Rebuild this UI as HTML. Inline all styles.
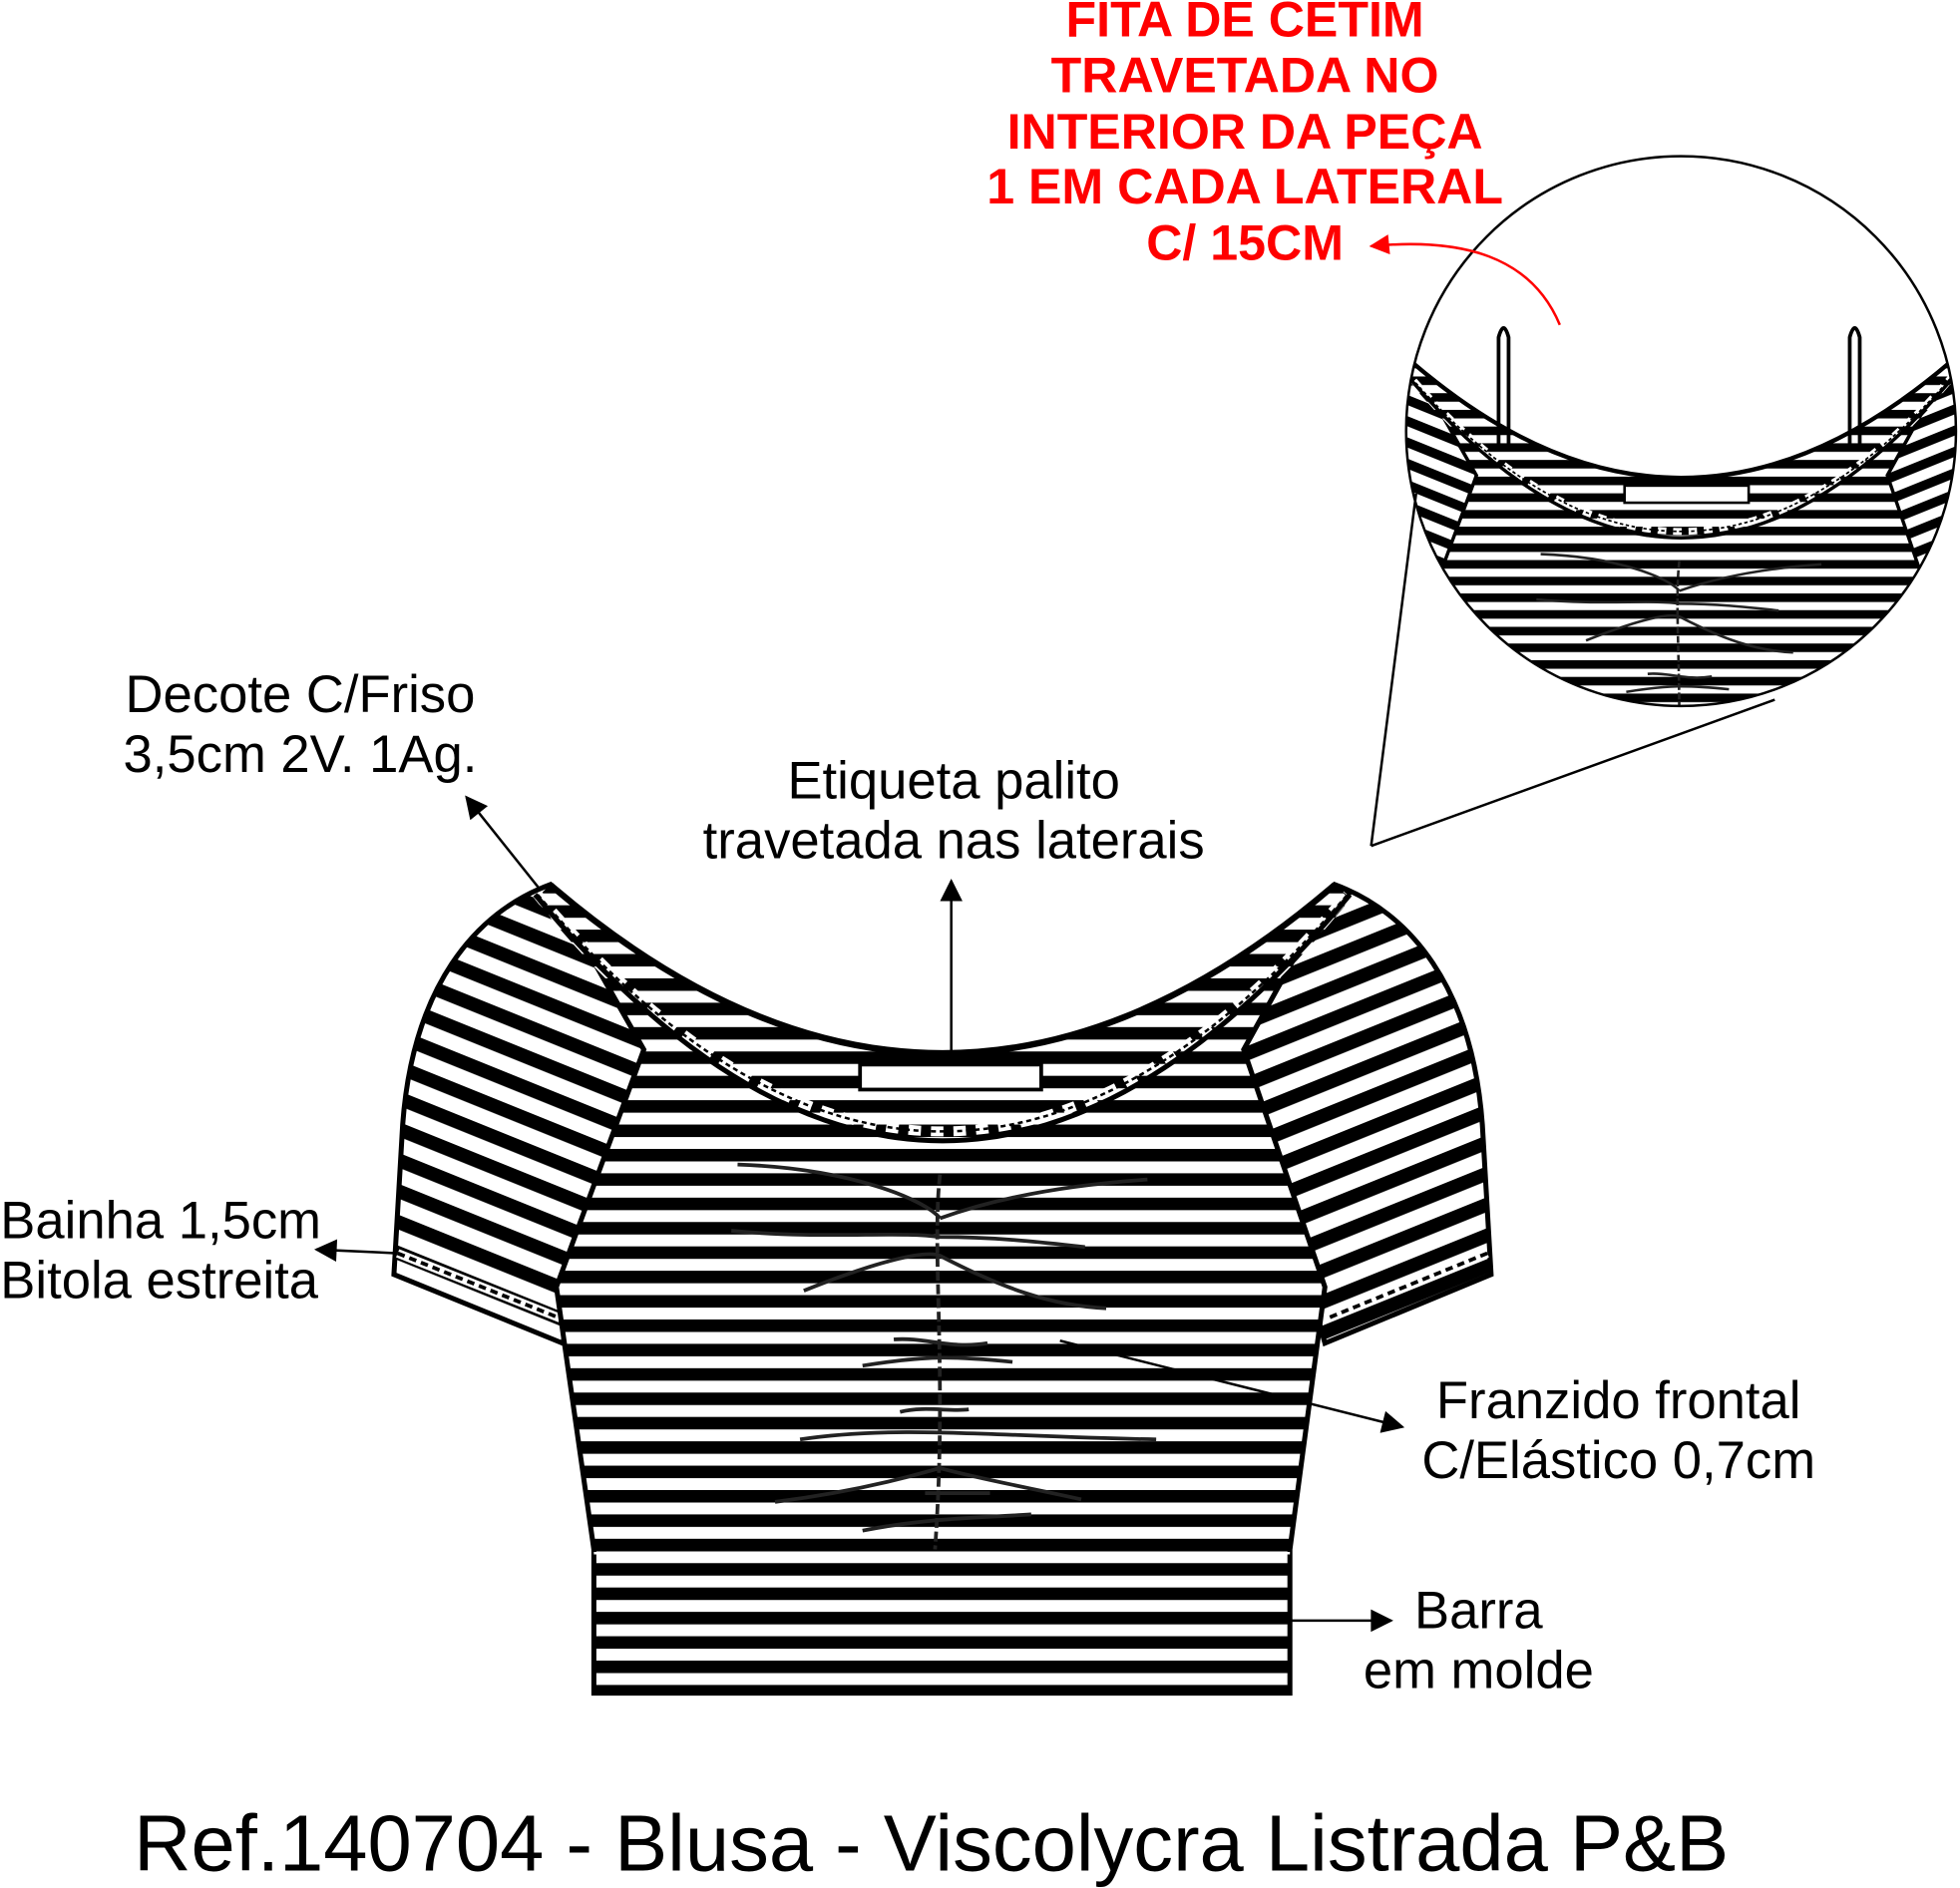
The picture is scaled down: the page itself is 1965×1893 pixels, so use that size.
<!DOCTYPE html>
<html><head><meta charset="utf-8"><style>
html,body{margin:0;padding:0;background:#fff;}
svg{display:block;}
text{font-family:"Liberation Sans",Arial,sans-serif;}
</style></head><body>
<svg width="1965" height="1893" viewBox="0 0 1568 1511" xmlns="http://www.w3.org/2000/svg">
<defs>
<pattern id="hs" patternUnits="userSpaceOnUse" width="40" height="19.5" y="3">
<rect width="40" height="19.5" fill="#fff"/><rect width="40" height="10" fill="#000"/>
</pattern>
<pattern id="ls" patternUnits="userSpaceOnUse" width="40" height="23" patternTransform="rotate(22)">
<rect width="40" height="23" fill="#fff"/><rect width="40" height="11" fill="#000"/>
</pattern>
<pattern id="rs" patternUnits="userSpaceOnUse" width="40" height="23" patternTransform="rotate(-22)">
<rect width="40" height="23" fill="#fff"/><rect width="40" height="11" fill="#000"/>
</pattern>
<marker id="ar2" viewBox="0 0 10 10" refX="9" refY="5" markerWidth="20" markerHeight="18" orient="auto" markerUnits="userSpaceOnUse">
<path d="M0,0 L10,5 L0,10 z" fill="#000"/></marker>
<marker id="arr" viewBox="0 0 10 10" refX="9" refY="5" markerWidth="20" markerHeight="16" orient="auto" markerUnits="userSpaceOnUse">
<path d="M0,0 L10,5 L0,10 z" fill="#f00"/></marker>
<g id="garment">
<path d="M440,708 C380,730 330,790 322,900 L315,1020 L450,1075 L515,840 Z" fill="url(#ls)" stroke="#000" stroke-width="4"/>
<path d="M1068,708 C1128,730 1178,790 1186,900 L1193,1020 L1060,1075 L995,840 Z" fill="url(#rs)" stroke="#000" stroke-width="4"/>
<path d="M318,1003 L448,1055" stroke="#fff" stroke-width="7"/>
<path d="M318,1003 L448,1055" stroke="#000" stroke-width="3" stroke-dasharray="6,4"/>
<path d="M1190,1003 L1062,1055" stroke="#fff" stroke-width="7"/>
<path d="M1190,1003 L1062,1055" stroke="#000" stroke-width="3" stroke-dasharray="6,4"/>
<path d="M440,708 Q754,978 1068,708 L995,840 L1060,1030 L1032,1240 L1032,1355 L475,1355 L475,1240 L445,1030 L515,840 Z" fill="url(#hs)" stroke="#000" stroke-width="4"/>
<path d="M440,708 Q754,978 1068,708 L1080,720 Q754,1120 428,720 Z" fill="url(#hs)"/>
<path d="M430,716 Q754,1095 1078,716" fill="none" stroke="#fff" stroke-width="8" stroke-dasharray="10,8"/>
<path d="M430,716 Q754,1095 1078,716" fill="none" stroke="#000" stroke-width="2" stroke-dasharray="4,3"/>
<path d="M428,716 Q754,1110 1080,716" fill="none" stroke="#000" stroke-width="4"/>
<path d="M440,708 Q754,978 1068,708" fill="none" stroke="#000" stroke-width="5"/>
<line x1="475" y1="1240" x2="1032" y2="1240" stroke="#000" stroke-width="3"/>
<line x1="475" y1="1243" x2="1032" y2="1243" stroke="#fff" stroke-width="2"/>
<rect x="688" y="852" width="145" height="20" fill="#fff" stroke="#000" stroke-width="3"/>
<g fill="none" stroke="#222" stroke-width="3">
<path d="M752,940 C745,1000 758,1100 748,1240" stroke-dasharray="8,3"/>
<path d="M590,932 C680,935 740,960 752,975"/>
<path d="M918,944 C830,950 780,965 752,975"/>
<path d="M585,985 C660,992 720,985 752,990 C800,990 840,995 868,998"/>
<path d="M643,1033 C700,1010 740,1000 752,1005 C800,1030 840,1045 885,1047"/>
<path d="M715,1072 C740,1070 760,1080 790,1075"/>
<path d="M690,1093 C740,1085 760,1085 810,1090"/>
<path d="M720,1130 C740,1125 760,1130 775,1128"/>
<path d="M640,1152 C720,1140 800,1150 925,1152"/>
<path d="M620,1202 C700,1192 750,1175 752,1175 C790,1185 830,1192 865,1200"/>
<path d="M690,1225 C740,1215 780,1215 825,1212"/>
<path d="M740,1195 C760,1195 780,1195 792,1195"/>
</g>
</g>
<clipPath id="cc"><circle cx="1345" cy="345" r="220"/></clipPath>
</defs>

<use href="#garment"/>

<g clip-path="url(#cc)">
<use href="#garment" transform="translate(1345,290) scale(0.685) translate(-754,-708)"/>
<rect x="1120" y="575" width="460" height="60" fill="#fff"/>
</g>
<circle cx="1345" cy="345" r="220" fill="none" stroke="#000" stroke-width="2"/>
<path d="M1199,355 L1199,270 Q1203,255 1207,270 L1207,355" fill="none" stroke="#000" stroke-width="3"/>
<path d="M1480,355 L1480,270 Q1484,255 1488,270 L1488,355" fill="none" stroke="#000" stroke-width="3"/>
<line x1="1133" y1="395" x2="1097" y2="677" stroke="#000" stroke-width="2"/>
<line x1="1097" y1="677" x2="1420" y2="560" stroke="#000" stroke-width="2"/>
<path d="M1248,260 C1225,205 1170,190 1097,197" fill="none" stroke="#f00" stroke-width="2" marker-end="url(#arr)"/>

<g fill="#f00" font-weight="bold" font-size="40" text-anchor="middle">
<text x="996" y="29">FITA DE CETIM</text>
<text x="996" y="74">TRAVETADA NO</text>
<text x="996" y="119">INTERIOR DA PEÇA</text>
<text x="996" y="163">1 EM CADA LATERAL</text>
<text x="996" y="208">C/ 15CM</text>
</g>

<g font-size="42" fill="#000">
<text x="240" y="570" text-anchor="middle">Decote C/Friso</text>
<text x="240" y="618" text-anchor="middle">3,5cm 2V. 1Ag.</text>
<text x="763" y="639" text-anchor="middle">Etiqueta palito</text>
<text x="763" y="687" text-anchor="middle">travetada nas laterais</text>
<text x="0" y="991">Bainha 1,5cm</text>
<text x="0" y="1039">Bitola estreita</text>
<text x="1295" y="1135" text-anchor="middle">Franzido frontal</text>
<text x="1295" y="1183" text-anchor="middle">C/Elástico 0,7cm</text>
<text x="1183" y="1303" text-anchor="middle">Barra</text>
<text x="1183" y="1351" text-anchor="middle">em molde</text>
<text x="745" y="1497" text-anchor="middle" font-size="63.5">Ref.140704 - Blusa - Viscolycra Listrada P&amp;B</text>
</g>

<g stroke="#000" stroke-width="2" fill="none">
<line x1="432" y1="712" x2="373" y2="638" marker-end="url(#ar2)"/>
<line x1="761" y1="843" x2="761" y2="705" marker-end="url(#ar2)"/>
<line x1="318" y1="1003" x2="253" y2="1000" marker-end="url(#ar2)"/>
<line x1="848" y1="1073" x2="1122" y2="1142" marker-end="url(#ar2)"/>
<line x1="1033" y1="1297" x2="1113" y2="1297" marker-end="url(#ar2)"/>
</g>
</svg>
</body></html>
